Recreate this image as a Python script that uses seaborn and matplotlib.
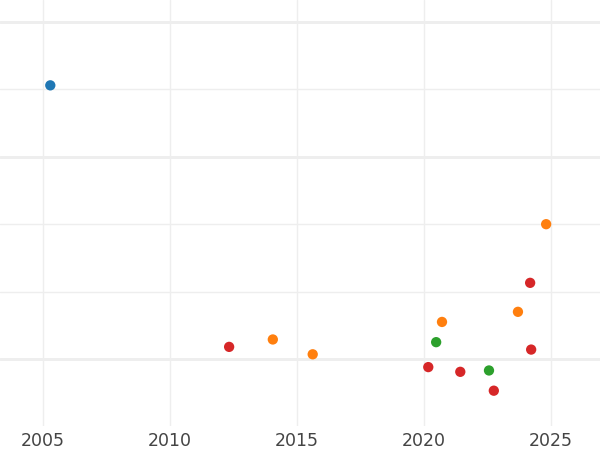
import matplotlib
matplotlib.use("Agg")
import matplotlib.pyplot as plt
import seaborn as sns
import pandas as pd

# Data
blue_x = [2005.29]
blue_y = [4.06]
orange_x = [2014.05, 2015.62, 2020.71, 2023.70, 2024.81]
orange_y = [0.29, 0.07, 0.55, 0.70, 2.00]
green_x = [2020.48, 2022.56]
green_y = [0.25, -0.17]
red_x = [2012.33, 2020.17, 2021.43, 2022.75, 2024.18, 2024.22]
red_y = [0.18, -0.12, -0.19, -0.47, 1.13, 0.14]

x_ticks = [2005, 2010, 2015, 2020, 2025]
y_grid = [0, 1, 2, 3, 4, 5]
y_thick = [0, 3, 5]

groups = ["blue", "orange", "green", "red"]
colors = {"blue": "#1f77b4", "orange": "#ff7f0e", "green": "#2ca02c", "red": "#d62728"}

rows = []
for g, xs, ys in [("blue", blue_x, blue_y), ("orange", orange_x, orange_y),
                  ("green", green_x, green_y), ("red", red_x, red_y)]:
    for xv, yv in zip(xs, ys):
        rows.append({"year": xv, "value": yv, "group": g})
df = pd.DataFrame(rows)

sns.set_theme(style="white")
fig = plt.figure(figsize=(6, 4.5), dpi=100)
ax = fig.add_axes([0, 0.0533, 1, 0.9467])

ax.set_xlim(2003.31, 2026.93)
ax.set_ylim(-0.994, 5.326)
ax.set_xticks(x_ticks)
ax.set_yticks(y_grid)
ax.grid(True, color="#eeeeee", linewidth=1.0, zorder=0)
for yv in y_thick:
    ax.axhline(yv, color="#eeeeee", linewidth=2.0, zorder=0.5)

sns.scatterplot(data=df, x="year", y="value", hue="group", hue_order=groups,
                palette=colors, s=55, edgecolor="none", linewidth=0,
                legend=False, ax=ax, zorder=3)

ax.set_xlabel("")
ax.set_ylabel("")
ax.set_yticklabels([])
ax.tick_params(axis="both", length=0)
ax.tick_params(axis="x", labelsize=12.5, labelcolor="#444444", pad=4)
for s in ax.spines.values():
    s.set_visible(False)

fig.savefig("out.png", dpi=100)
